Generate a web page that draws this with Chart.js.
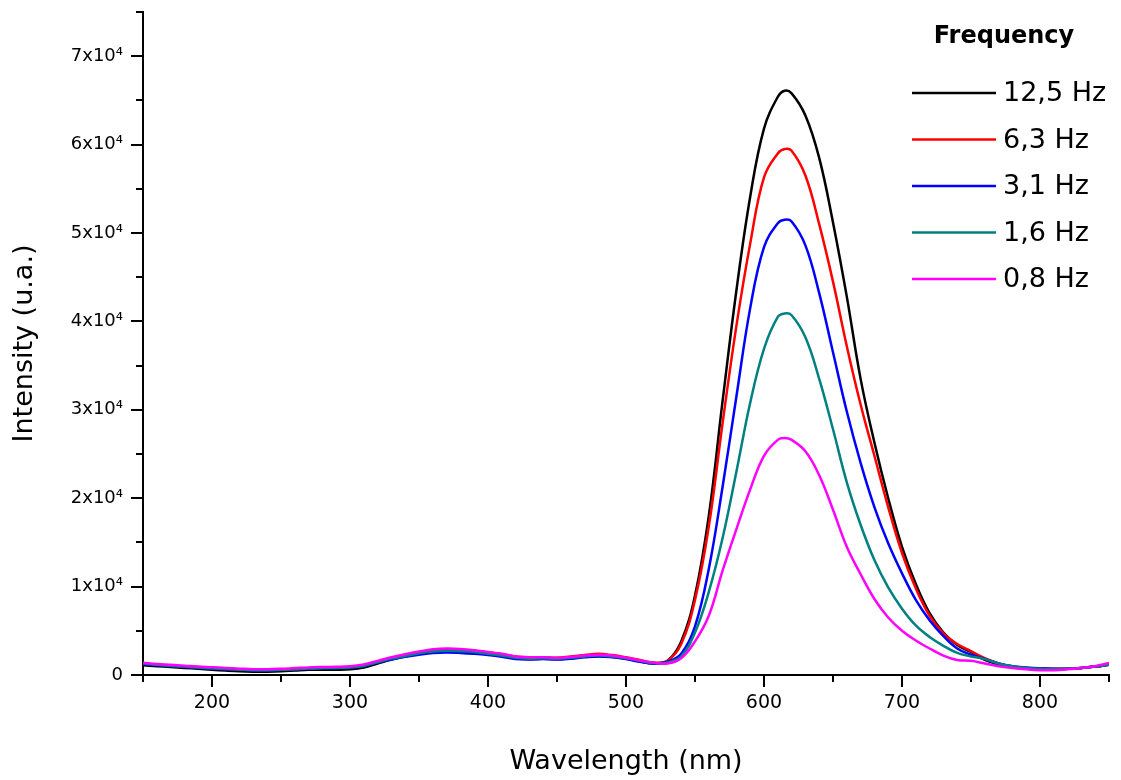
<!DOCTYPE html>
<html>
<head>
<meta charset="utf-8">
<title>Intensity vs wavelength</title>
<script src="https://cdn.jsdelivr.net/npm/chart.js@4.4.1/dist/chart.umd.min.js"></script>
<style>
    html, body { margin: 0; padding: 0; background: #fff; }
    canvas { display: block; }
</style>
</head>
<body>
<canvas id="spectrum-chart" width="1121" height="780"></canvas>
<script>
// Wavelength grid (nm)
const wavelengths = [
    150, 160, 170, 180, 190, 200, 210, 220, 230, 240, 250, 260, 270, 280, 290, 300, 310, 320, 330, 340,
    350, 360, 370, 380, 390, 400, 410, 420, 430, 440, 450, 460, 470, 480, 490, 500, 510, 520,
    530, 540, 550, 560, 570, 580, 590, 600, 610, 615, 620, 630, 640, 650, 660, 670, 680, 690,
    700, 710, 720, 730, 740, 750, 760, 770, 780, 790, 800, 810, 820, 830, 840, 850
];

// Intensity (u.a.) for each frequency
const hz12_5 = [
    1100, 1000, 900, 800, 700, 600, 500, 420, 380, 380, 420, 500, 580, 600, 600, 650, 850, 1300, 1750, 2100,
    2400, 2650, 2750, 2700, 2550, 2400, 2200, 1900, 1800, 1850, 1800, 1900, 2050, 2150, 2050, 1850, 1550, 1300,
    1600, 3800, 9000, 18000, 31000, 43500, 54100, 61800, 65400, 66100, 65800, 63300, 58500, 51200, 42800, 33500, 26300, 20000,
    14500, 10300, 7000, 4800, 3400, 2600, 1700, 1200, 900, 750, 700, 650, 700, 800, 950, 1150
];
const hz6_3 = [
    1300, 1150, 1050, 950, 850, 780, 700, 620, 560, 560, 600, 680, 760, 800, 820, 880, 1100, 1500, 1900, 2250,
    2550, 2800, 2850, 2850, 2750, 2550, 2350, 2100, 2000, 2000, 1950, 2100, 2250, 2400, 2250, 2000, 1700, 1400,
    1600, 3500, 8500, 16800, 28500, 39500, 48800, 56300, 59000, 59500, 59300, 56500, 51000, 44500, 37200, 30600, 24800, 19000,
    13800, 9800, 6700, 4700, 3500, 2700, 1900, 1300, 950, 800, 750, 700, 720, 800, 950, 1150
];
const hz3_1 = [
    1250, 1100, 1000, 900, 800, 720, 650, 580, 520, 520, 560, 640, 720, 760, 780, 830, 1000, 1400, 1750, 2050,
    2300, 2500, 2550, 2500, 2400, 2250, 2050, 1800, 1750, 1800, 1750, 1850, 2000, 2100, 2000, 1800, 1500, 1300,
    1500, 2400, 5500, 12000, 21300, 31500, 41500, 48400, 51100, 51500, 51300, 48600, 43200, 36500, 29800, 24000, 19000, 14900,
    11500, 8500, 6200, 4400, 3000, 2300, 1800, 1300, 1000, 850, 750, 700, 720, 800, 950, 1150
];
const hz1_6 = [
    1300, 1150, 1050, 950, 850, 760, 680, 600, 540, 540, 580, 660, 740, 780, 800, 860, 1050, 1450, 1850, 2150,
    2450, 2650, 2750, 2700, 2600, 2400, 2200, 1950, 1850, 1900, 1850, 1950, 2100, 2200, 2100, 1900, 1600, 1350,
    1400, 2100, 4800, 9400, 15500, 23000, 30800, 36900, 40500, 40900, 40700, 38200, 33500, 27800, 21800, 17000, 13000, 9900,
    7500, 5600, 4300, 3300, 2500, 2100, 1800, 1300, 1000, 800, 700, 680, 720, 800, 950, 1150
];
const hz0_8 = [
    1400, 1250, 1150, 1050, 950, 880, 800, 720, 650, 650, 700, 780, 860, 900, 920, 980, 1200, 1600, 2000, 2350,
    2650, 2900, 3000, 2950, 2800, 2600, 2400, 2100, 2000, 2000, 1950, 2050, 2200, 2300, 2200, 1950, 1650, 1400,
    1300, 1900, 3800, 6700, 11800, 16500, 21000, 24800, 26600, 26800, 26600, 25300, 22600, 18700, 14500, 11400, 8600, 6500,
    5000, 3900, 3000, 2200, 1700, 1600, 1300, 1000, 800, 650, 550, 550, 650, 800, 1000, 1350
];

const seriesLabels = ['12,5 Hz', '6,3 Hz', '3,1 Hz', '1,6 Hz', '0,8 Hz'];
const seriesValues = [hz12_5, hz6_3, hz3_1, hz1_6, hz0_8];
const seriesColors = ['#000000', '#ff0000', '#0000ff', '#008080', '#ff00ff'];

const FONT = "'DejaVu Sans', sans-serif";

// Outward tick marks, long for labelled values, short for the others
const tickMarks = {
    id: 'tickMarks',
    afterDraw(chart) {
        const ctx = chart.ctx;
        const area = chart.chartArea;
        ctx.save();
        ctx.strokeStyle = '#000';
        ctx.lineWidth = 2;
        const xs = chart.scales.x;
        xs.ticks.forEach(t => {
            const px = Math.round(xs.getPixelForValue(t.value));
            const len = t.value % 100 === 0 ? 12 : 7;
            ctx.beginPath();
            ctx.moveTo(px, area.bottom);
            ctx.lineTo(px, area.bottom + len);
            ctx.stroke();
        });
        const ys = chart.scales.y;
        ys.ticks.forEach(t => {
            const py = Math.round(ys.getPixelForValue(t.value));
            const len = t.value % 10000 === 0 ? 12 : 7;
            ctx.beginPath();
            ctx.moveTo(area.left, py);
            ctx.lineTo(area.left - len, py);
            ctx.stroke();
        });
        ctx.restore();
    }
};

// Legend drawn inside the plot, top right
const frequencyLegend = {
    id: 'frequencyLegend',
    afterDraw(chart) {
        const ctx = chart.ctx;
        ctx.save();
        ctx.fillStyle = '#000';
        ctx.textBaseline = 'middle';
        ctx.textAlign = 'center';
        ctx.font = 'bold 24px ' + FONT;
        ctx.fillText('Frequency', 1004, 37);
        ctx.textAlign = 'left';
        ctx.font = '27px ' + FONT;
        chart.data.datasets.forEach((ds, i) => {
            const y = 93 + i * 46.5;
            ctx.strokeStyle = ds.borderColor;
            ctx.lineWidth = 2.5;
            ctx.beginPath();
            ctx.moveTo(912, y);
            ctx.lineTo(996, y);
            ctx.stroke();
            ctx.fillText(ds.label, 1003, y + 1);
        });
        ctx.restore();
    }
};

const datasets = seriesValues.map((values, i) => ({
    label: seriesLabels[i],
    data: wavelengths.map((w, j) => ({ x: w, y: values[j] })),
    borderColor: seriesColors[i],
    backgroundColor: seriesColors[i],
    borderWidth: 2.5,
    pointRadius: 0,
    fill: false,
    tension: 0.4,
    order: seriesValues.length - i
}));

const ctx = document.getElementById('spectrum-chart').getContext('2d');
new Chart(ctx, {
    type: 'line',
    data: { datasets: datasets },
    options: {
        responsive: false,
        animation: false,
        devicePixelRatio: 1,
        layout: { padding: { left: 0, top: 12, right: 12, bottom: 0 } },
        plugins: {
            legend: { display: false },
            tooltip: { enabled: false }
        },
        scales: {
            x: {
                type: 'linear',
                min: 150,
                max: 850,
                grid: { display: false, drawTicks: false },
                border: { display: true, color: '#000', width: 2 },
                ticks: {
                    stepSize: 50,
                    padding: 17,
                    color: '#000',
                    maxRotation: 0,
                    autoSkip: false,
                    font: { family: FONT, size: 19 },
                    callback: v => (v % 100 === 0 ? String(v) : '')
                },
                title: {
                    display: true,
                    text: 'Wavelength (nm)',
                    color: '#000',
                    font: { family: FONT, size: 27 },
                    padding: { top: 0, bottom: 2 }
                },
                afterFit: scale => {
                    scale.height = 105;
                    scale.paddingLeft = 0;
                    scale.paddingRight = 0;
                }
            },
            y: {
                min: 0,
                max: 75000,
                grid: { display: false, drawTicks: false },
                border: { display: true, color: '#000', width: 2 },
                ticks: {
                    stepSize: 5000,
                    padding: 20,
                    color: '#000',
                    autoSkip: false,
                    font: { family: FONT, size: 18 },
                    callback: v => {
                        if (v === 0) return '0';
                        return v % 10000 === 0 ? (v / 10000) + 'x10\u2074' : '';
                    }
                },
                title: {
                    display: true,
                    text: 'Intensity (u.a.)',
                    color: '#000',
                    font: { family: FONT, size: 27 },
                    padding: { top: 9, bottom: 0 }
                },
                afterFit: scale => {
                    scale.width = 143;
                    scale.paddingTop = 0;
                    scale.paddingBottom = 0;
                }
            }
        }
    },
    plugins: [tickMarks, frequencyLegend]
});
</script>
</body>
</html>
